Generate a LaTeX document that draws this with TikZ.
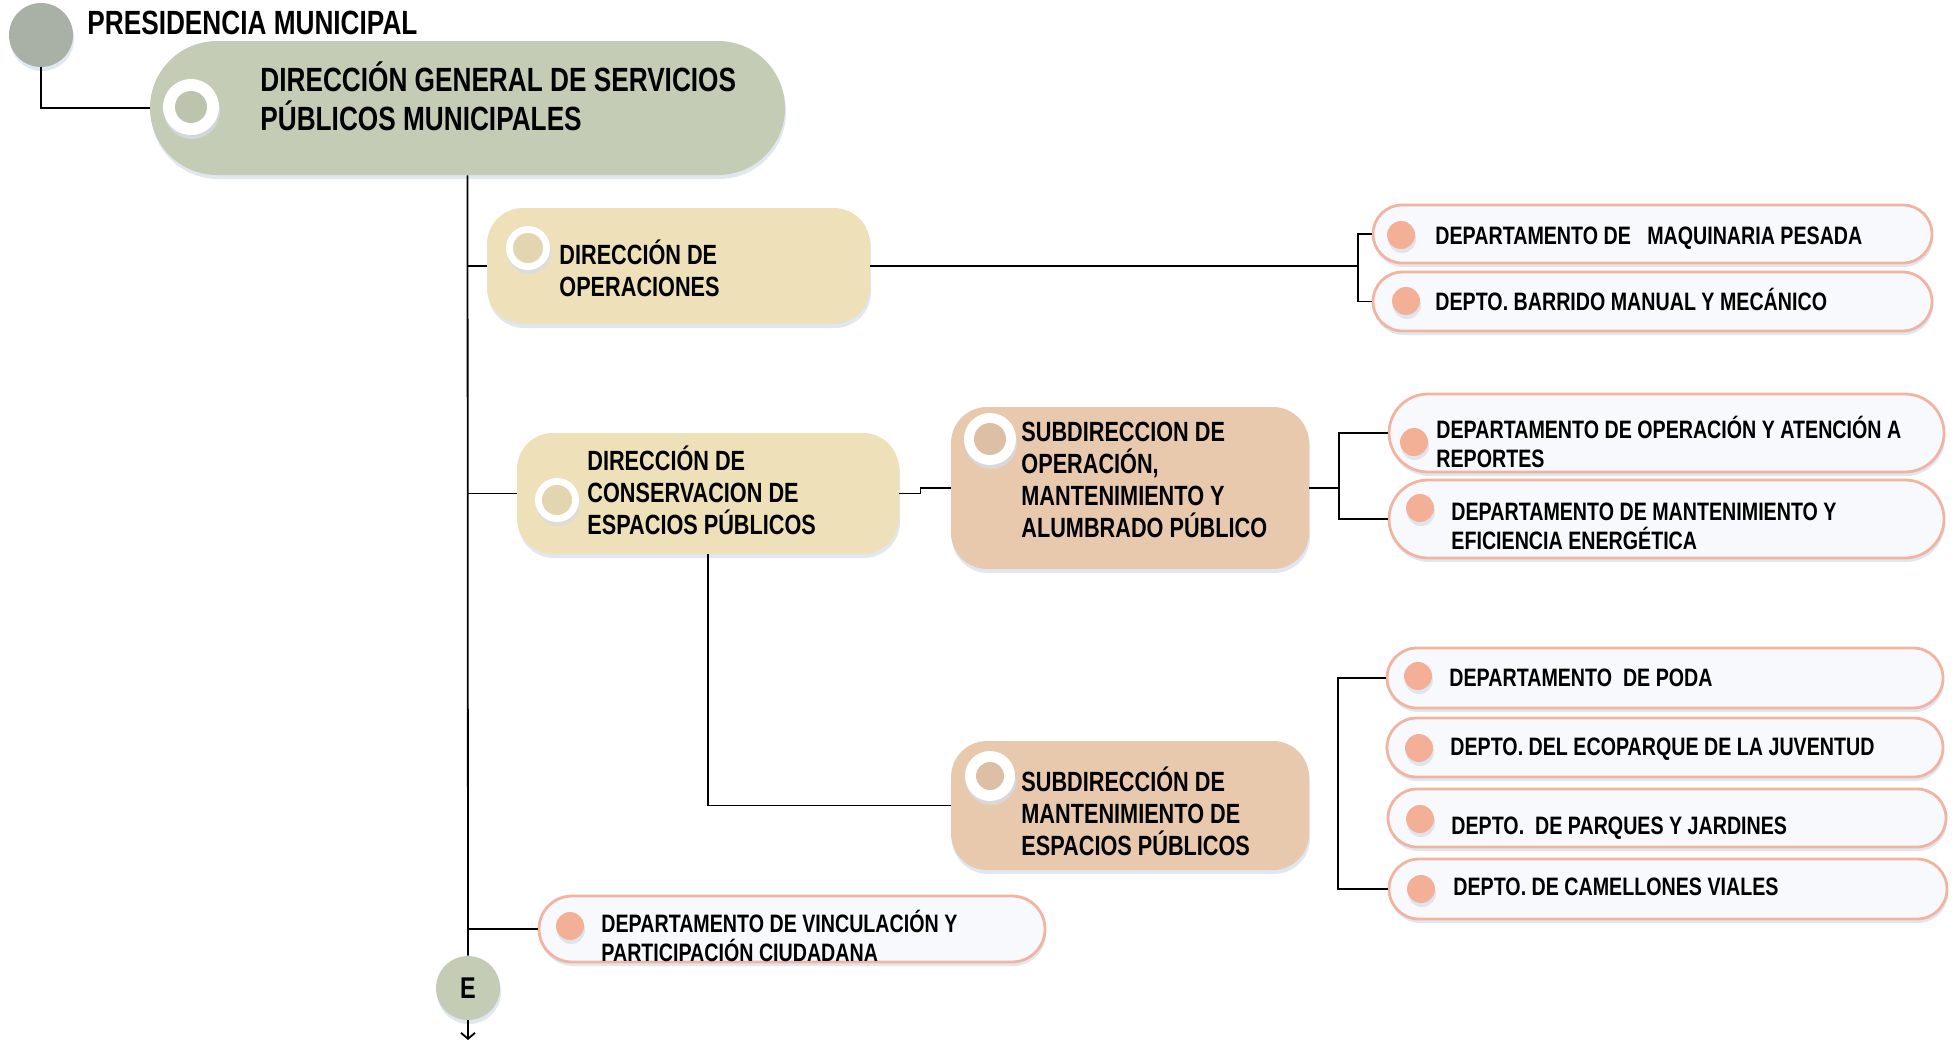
\documentclass[tikz,border=0pt]{standalone}
\usepackage{fontspec}
\setmainfont{Liberation Sans}[FakeStretch=0.78]
\usepackage[HTML]{xcolor}
\usetikzlibrary{positioning, arrows.meta, shapes.misc, shadows}

\definecolor{presgray}{HTML}{A9B1A6}
\definecolor{sage}{HTML}{C5CCB5}
\definecolor{cream}{HTML}{EEE0B8}
\definecolor{tan}{HTML}{E8C9AE}
\definecolor{salmon}{HTML}{F4B096}
\definecolor{salmonline}{HTML}{F2B4A0}
\definecolor{deptofill}{HTML}{F8F9FC}
\definecolor{shadowblue}{HTML}{D3DDEA}

\begin{document}
\begin{tikzpicture}[x=0.5pt,y=-0.5pt,
  conn/.style={line width=0.9pt,black},
  shade/.style={drop shadow={shadow xshift=0.5pt,shadow yshift=-2pt,fill=shadowblue,opacity=0.7}},
  dirbox/.style={rectangle,rounded corners=18pt,shade,inner sep=0pt},
  depto/.style={rounded rectangle,draw=salmonline,line width=1.4pt,fill=deptofill,shade,inner sep=0pt},
  ring/.style={circle,fill=white,inner sep=0pt,shade},
  dot/.style={circle,fill=salmon,minimum size=14pt,inner sep=0pt,shade},
  bigtxt/.style={anchor=base west,align=left,inner sep=0pt,font=\bfseries\fontsize{16.8}{19.5}\selectfont},
  dirtxt/.style={anchor=base west,align=left,inner sep=0pt,font=\bfseries\fontsize{13.9}{16}\selectfont},
  deptxt/.style={anchor=base west,align=left,inner sep=0pt,font=\bfseries\fontsize{12.6}{14.5}\selectfont}]
\useasboundingbox (0,0) rectangle (1957,1044);

% head
\node[circle,fill=presgray,minimum size=32pt,inner sep=0pt,shade] (pres) at (41,35) {};
\node[bigtxt] (prestxt) at (87,34) {PRESIDENCIA MUNICIPAL};
\node[rounded rectangle,fill=sage,minimum width=317.5pt,minimum height=67pt,inner sep=0pt,shade] (dgsp) at (467.5,108) {};
\node[ring,minimum size=28pt] (dgspring) at (191,107) {};
\node[circle,fill=sage!96!black,minimum size=16pt,inner sep=0pt] (dgspdot) at (dgspring) {};
\node[bigtxt] (dgsptxt) at (260,130) {DIRECCIÓN GENERAL DE SERVICIOS\\PÚBLICOS MUNICIPALES};

% direcciones
\node[dirbox,fill=cream,minimum width=191.5pt,minimum height=58pt] (dirop) at (678.5,266) {};
\node[ring,minimum size=22pt] (diropring) at (528,248) {};
\node[circle,fill=cream!95!black,minimum size=15pt,inner sep=0pt] (diropdot) at (diropring) {};
\node[dirtxt] (diroptxt) at (559,296) {DIRECCIÓN DE\\OPERACIONES};

\node[dirbox,fill=cream,minimum width=191pt,minimum height=60.5pt] (dircons) at (708,493.5) {};
\node[ring,minimum size=22pt] (dirconsring) at (557,500) {};
\node[circle,fill=cream!95!black,minimum size=15pt,inner sep=0pt] (dirconsdot) at (dirconsring) {};
\node[dirtxt] (dirconstxt) at (587,534) {DIRECCIÓN DE\\CONSERVACION DE\\ESPACIOS PÚBLICOS};

% subdirecciones
\node[dirbox,fill=tan,minimum width=179pt,minimum height=81pt] (subop) at (1130,488) {};
\node[ring,minimum size=26pt] (subopring) at (990,439) {};
\node[circle,fill=tan!95!black,minimum size=16pt,inner sep=0pt] (subopdot) at (subopring) {};
\node[dirtxt] (suboptxt) at (1021,537) {SUBDIRECCION DE\\OPERACIÓN,\\MANTENIMIENTO Y\\ALUMBRADO PÚBLICO};

\node[dirbox,fill=tan,minimum width=179pt,minimum height=64.5pt] (submant) at (1130,805.5) {};
\node[ring,minimum size=25pt] (submantring) at (990,776) {};
\node[circle,fill=tan!95!black,minimum size=14pt,inner sep=0pt] (submantdot) at (submantring) {};
\node[dirtxt] (submanttxt) at (1021,855) {SUBDIRECCIÓN DE\\MANTENIMIENTO DE\\ESPACIOS PÚBLICOS};

% departamentos
\node[depto,minimum width=279.5pt,minimum height=29pt] (maq) at (1652.5,234) {};
\node[dot] (maqdot) at (1401,235) {};
\node[deptxt] (maqtxt) at (1435,244) {DEPARTAMENTO DE\ \ \ MAQUINARIA PESADA};

\node[depto,minimum width=279.5pt,minimum height=29.5pt] (barr) at (1652.5,301.5) {};
\node[dot] (barrdot) at (1406,301) {};
\node[deptxt] (barrtxt) at (1435,310) {DEPTO. BARRIDO MANUAL Y MECÁNICO};

\node[depto,minimum width=277.5pt,minimum height=39pt] (oper) at (1666.5,433) {};
\node[dot] (operdot) at (1414,442) {};
\node[deptxt] (opertxt) at (1436,467) {DEPARTAMENTO DE OPERACIÓN Y ATENCIÓN A\\REPORTES};

\node[depto,minimum width=277.5pt,minimum height=39pt] (mant) at (1666.5,519) {};
\node[dot] (mantdot) at (1420,508) {};
\node[deptxt] (manttxt) at (1451,549) {DEPARTAMENTO DE MANTENIMIENTO Y\\EFICIENCIA ENERGÉTICA};

\node[depto,minimum width=278pt,minimum height=30pt] (poda) at (1665,678) {};
\node[dot] (podadot) at (1418,676) {};
\node[deptxt] (podatxt) at (1449,686) {DEPARTAMENTO\ \ DE PODA};

\node[depto,minimum width=278pt,minimum height=29.5pt] (eco) at (1665,747.5) {};
\node[dot] (ecodot) at (1419,748) {};
\node[deptxt] (ecotxt) at (1450,755) {DEPTO. DEL ECOPARQUE DE LA JUVENTUD};

\node[depto,minimum width=279pt,minimum height=29pt] (parq) at (1667,818) {};
\node[dot] (parqdot) at (1420,819) {};
\node[deptxt] (parqtxt) at (1451,834) {DEPTO.\ \ DE PARQUES Y JARDINES};

\node[depto,minimum width=279pt,minimum height=30pt] (cam) at (1668,889) {};
\node[dot] (camdot) at (1421,889) {};
\node[deptxt] (camtxt) at (1453,895) {DEPTO. DE CAMELLONES VIALES};

\node[depto,minimum width=253pt,minimum height=33pt] (vinc) at (792,929) {};
\node[dot] (vincdot) at (570,926) {};
\node[deptxt] (vinctxt) at (601,961) {DEPARTAMENTO DE VINCULACIÓN Y\\PARTICIPACIÓN CIUDADANA};

% end circle
\node[circle,fill=sage,minimum size=32pt,inner sep=0pt,shade,font=\bfseries\fontsize{15}{15}\selectfont] (e) at (468,988) {E};
\coordinate (eend) at (468,1040);

% lines
\draw[conn] (pres.south) |- (dgsp.west);
\draw[conn] (dgsp.south) -- (e.north);
\draw[conn] (dgsp.south |- dirop.west) -- (dirop.west);
\draw[conn] (dgsp.south |- dircons.west) -- (dircons.west);
\draw[conn] (dgsp.south |- vinc.west) -- (vinc.west);
\draw[conn,-{Straight Barb[length=3pt,width=7pt]}] (e.south) -- (eend);

\coordinate (opbr) at (1358,266);
\draw[conn] (dirop.east) -- (opbr);
\draw[conn] (maq.west) -| (opbr) |- (barr.west);

\draw[conn] (dircons.east) -- ++(21,0) |- (subop.west);
\coordinate (sobr) at (1339,488);
\draw[conn] (subop.east) -- (sobr);
\draw[conn] (oper.west) -| (sobr) |- (mant.west);

\draw[conn] (dircons.south) |- (submant.west);
\draw[conn] (poda.west) -- ++(-48,0) |- (cam.west);
\end{tikzpicture}
\end{document}
